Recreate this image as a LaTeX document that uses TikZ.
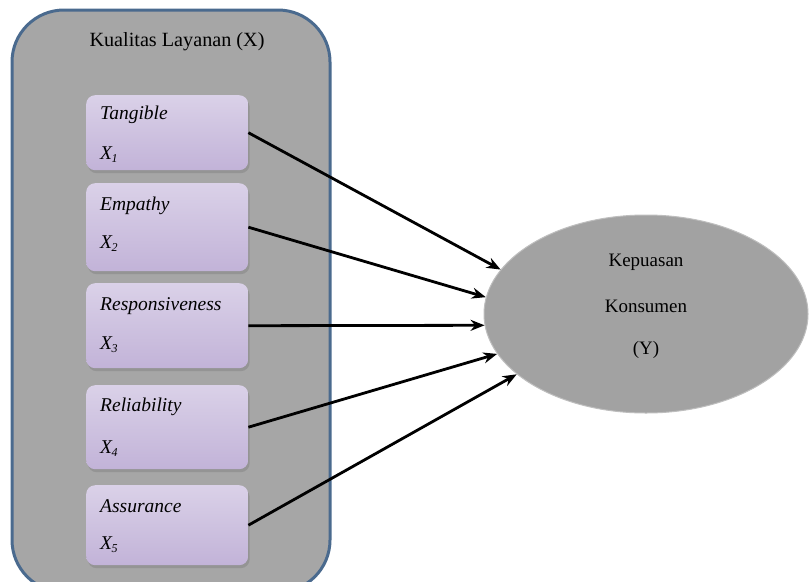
\documentclass[tikz,border=0pt]{standalone}
\usepackage{fontspec}
\setmainfont{Liberation Serif}
\usetikzlibrary{shapes.geometric,arrows.meta,shadows}
\definecolor{frameblue}{HTML}{4A6A8E}
\definecolor{contgray}{HTML}{A6A6A6}
\definecolor{ellgray}{HTML}{A2A2A2}
\definecolor{lavtop}{HTML}{DAD1E8}
\definecolor{lavmid}{HTML}{F5F3F8}
\definecolor{lavbot}{HTML}{C2B3D8}
\newcommand\xsub[1]{X\kern-0.5pt\raisebox{-3pt}{\fontsize{12}{12}\selectfont #1}}
\begin{document}
\begin{tikzpicture}[x=1pt,y=-1pt,
  container/.style={draw=frameblue, line width=3pt, fill=contgray, rounded corners=52pt},
  dimbox/.style={rectangle, rounded corners=9pt, minimum width=162pt, minimum height=#1,
    inner sep=0pt, anchor=north west, top color=lavtop, middle color=lavmid, bottom color=lavbot,
    drop shadow={shadow xshift=1.5pt, shadow yshift=-3pt, opacity=0.45}},
  lbl/.style={font=\fontsize{19.5}{22}\selectfont\itshape, anchor=west, inner sep=0pt},
  txt/.style={font=\fontsize{19}{22}\selectfont, inner sep=0pt},
  link/.style={line width=2.8pt, -{Stealth[length=14pt,width=11pt]}}]
\useasboundingbox (0,0) rectangle (810,581);
\fill[white] (0,0) rectangle (810,581);
\begin{scope}
\clip (0,0) rectangle (810,581);
\draw[container] (12,10) rectangle (330,592);
\end{scope}
\node[txt, font=\fontsize{20.2}{22}\selectfont] (title) at (177,42) {Kualitas Layanan (X)};

\node[dimbox=75pt] (b1) at (86,95) {};
\node[dimbox=88pt] (b2) at (86,183) {};
\node[dimbox=85pt] (b3) at (86,283) {};
\node[dimbox=84pt] (b4) at (86,385) {};
\node[dimbox=80pt] (b5) at (86,485) {};

\node[lbl] (t1) at (100,115) {Tangible};
\node[lbl] (s1) at (100,155) {\xsub{1}};
\node[lbl] (t2) at (100,206) {Empathy};
\node[lbl] (s2) at (100,244) {\xsub{2}};
\node[lbl] (t3) at (100,306) {Responsiveness};
\node[lbl] (s3) at (100,345) {\xsub{3}};
\node[lbl] (t4) at (100,407) {Reliability};
\node[lbl] (s4) at (100,449) {\xsub{4}};
\node[lbl] (t5) at (100,506) {Assurance};
\node[lbl] (s5) at (100,545) {\xsub{5}};

\node[ellipse, fill=ellgray, draw=ellgray!70!white, line width=1pt,
      minimum width=324pt, minimum height=198pt, inner sep=0pt] (ell) at (646,314) {};
\node[txt] (k1) at (646,262) {Kepuasan};
\node[txt] (k2) at (646,306) {Konsumen};
\node[txt] (k3) at (646,350) {(Y)};

\draw[link] (b1.east) -- (ell.163);
\draw[link] (b2.east) -- (ell.174);
\draw[link] (b3.east) -- (ell.184);
\draw[link] (b4.east) -- (ell.195);
\draw[link] (b5.east) -- (ell.205);
\end{tikzpicture}
\end{document}
